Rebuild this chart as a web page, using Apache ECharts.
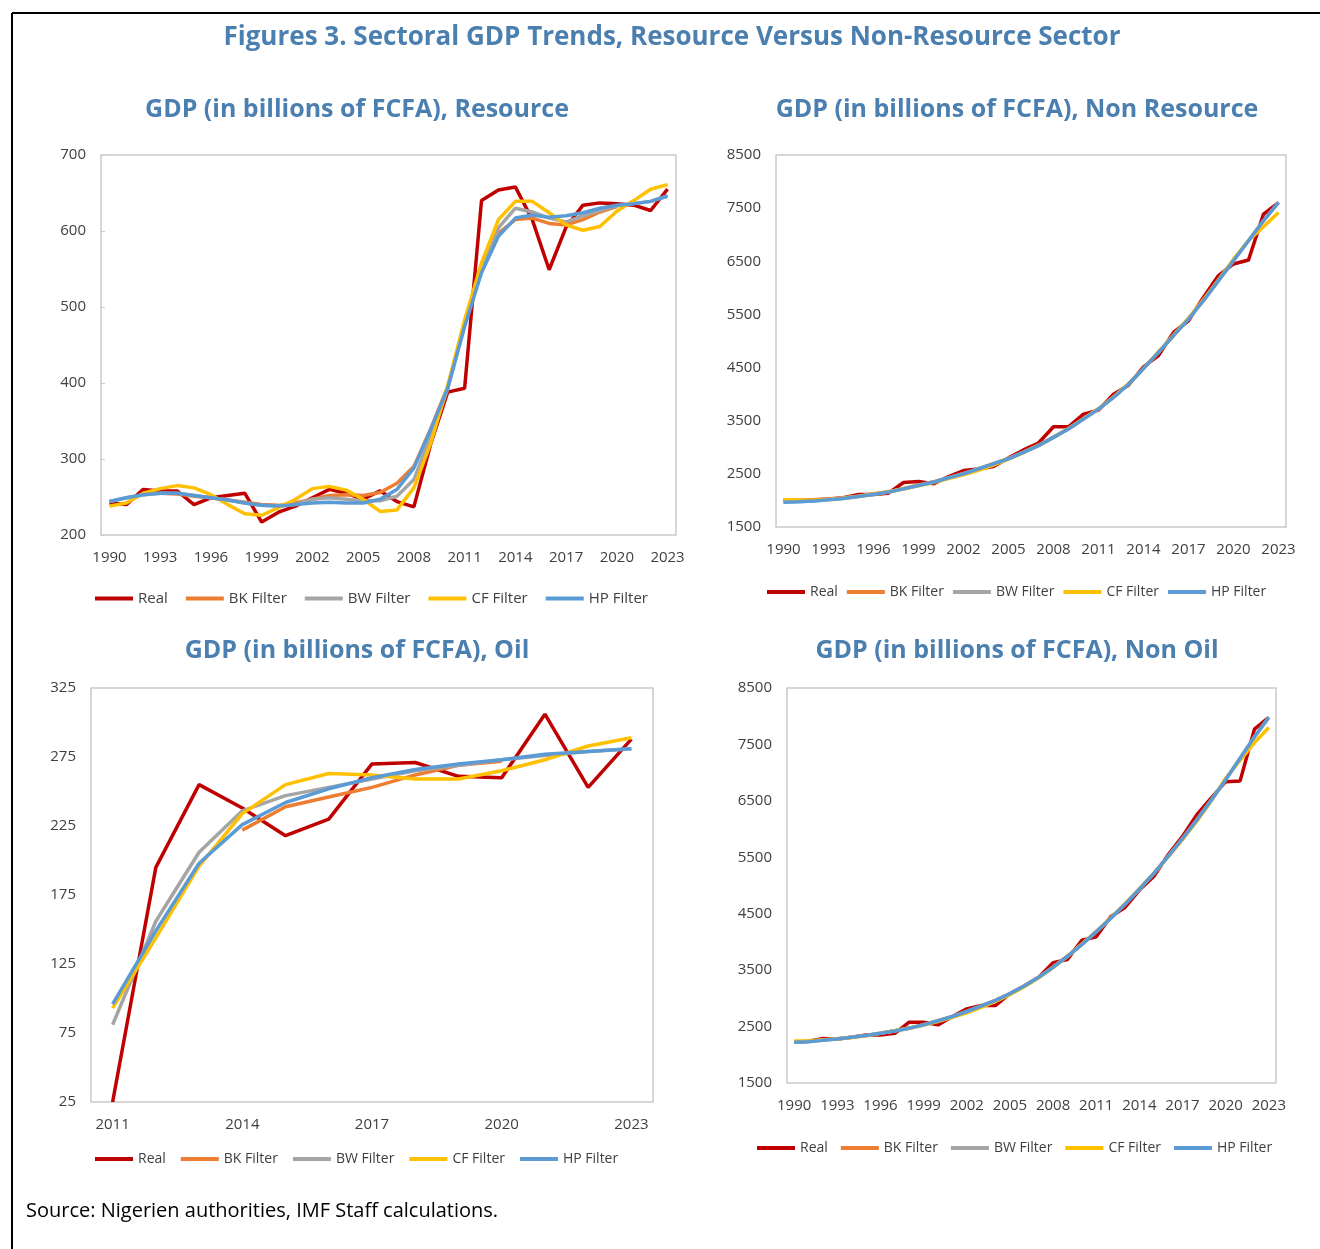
<!DOCTYPE html>
<html>
<head>
<meta charset="utf-8">
<title>Sectoral GDP Trends</title>
<script src="https://cdn.jsdelivr.net/npm/echarts@6/dist/echarts.min.js"></script>
<style>
  body { margin: 0; background: #fff; }
  #page { width: 1320px; height: 1249px; }
</style>
</head>
<body>
<div id="page"></div>
<script>
// categories
const years = [1990, 1991, 1992, 1993, 1994, 1995, 1996, 1997, 1998, 1999, 2000, 2001,
  2002, 2003, 2004, 2005, 2006, 2007, 2008, 2009, 2010, 2011, 2012, 2013, 2014, 2015,
  2016, 2017, 2018, 2019, 2020, 2021, 2022, 2023];
const oilYears = [2011, 2012, 2013, 2014, 2015, 2016, 2017, 2018, 2019, 2020, 2021, 2022, 2023];
const seriesNames = ['Real', 'BK Filter', 'BW Filter', 'CF Filter', 'HP Filter'];

// Resource
const resReal = [242, 240, 260, 258, 258, 240, 249, 252, 255, 217, 230, 238, 249, 260, 255, 247, 258, 244, 237, 320, 388, 393, 640, 654, 658, 615, 549, 605, 634, 637, 636, 634, 627, 655];
const resBK = [null, null, null, 255, 254, 251, 249, 246, 243, 240, 239, 242, 247, 252, 253, 252, 256, 268, 290, 340, 395, 478, 548, 597, 615, 617, 610, 608, 615, 625, 632, null, null, null];
const resBW = [244, 249, 253, 255, 255, 252, 249, 246, 242, 239, 238, 240, 247, 249, 247, 245, 245, 251, 273, 330, 392, 478, 550, 604, 630, 625, 617, 612, 620, 627, 633, 636, 639, 646];
const resCF = [238, 242, 255, 261, 265, 262, 253, 240, 228, 226, 236, 247, 261, 264, 259, 247, 231, 233, 262, 321, 396, 483, 558, 615, 639, 639, 624, 608, 601, 606, 626, 640, 655, 661];
const resHP = [244, 249, 253, 255, 255, 252, 249, 246, 242, 239, 238, 240, 242, 243, 242, 242, 247, 260, 288, 339, 393, 474, 545, 593, 617, 621, 618, 620, 624, 630, 634, 636, 639, 646];

// Non Resource
const nrReal = [2000, 2000, 2012, 2025, 2050, 2112, 2112, 2137, 2337, 2356, 2312, 2450, 2562, 2593, 2637, 2800, 2950, 3080, 3387, 3387, 3625, 3700, 4000, 4168, 4512, 4725, 5162, 5381, 5825, 6231, 6450, 6525, 7387, 7606];
const nrBK = [null, null, null, 2020, 2050, 2085, 2125, 2165, 2225, 2290, 2350, 2430, 2510, 2595, 2690, 2790, 2910, 3040, 3195, 3355, 3540, 3725, 3945, 4195, 4485, 4790, 5100, 5420, 5770, 6140, 6510, null, null, null];
const nrBW = [1970, 1978, 1990, 2015, 2040, 2078, 2115, 2160, 2222, 2285, 2347, 2428, 2505, 2597, 2690, 2785, 2910, 3035, 3190, 3348, 3535, 3722, 3940, 4190, 4484, 4790, 5103, 5415, 5765, 6140, 6515, 6890, 7265, 7610];
const nrCF = [2012, 2010, 2010, 2020, 2040, 2075, 2115, 2160, 2215, 2275, 2335, 2410, 2480, 2565, 2665, 2775, 2900, 3035, 3185, 3350, 3535, 3725, 3945, 4195, 4480, 4790, 5110, 5430, 5780, 6150, 6540, 6890, 7150, 7420];
const nrHP = [1968, 1975, 1987, 2012, 2037, 2075, 2112, 2156, 2218, 2281, 2343, 2425, 2500, 2593, 2687, 2781, 2906, 3031, 3187, 3344, 3531, 3718, 3937, 4187, 4481, 4787, 5100, 5412, 5762, 6137, 6512, 6887, 7262, 7606];

// Oil
const oilReal = [25, 195, 255, 238, 218, 230, 270, 271, 261, 260, 306, 253, 288];
const oilBK = [null, null, null, 222, 239, 246, 253, 262, 269, 272, null, null, null];
const oilBW = [81, 156, 206, 236, 247, 253, 259, 265, 269, 273, 276, 279, 281];
const oilCF = [93, 144, 196, 234, 255, 263, 262, 259, 259, 265, 273, 283, 289];
const oilHP = [96, 149, 198, 226, 242, 252, 260, 266, 270, 273, 277, 279, 281];

// Non Oil
const noReal = [2221, 2240, 2290, 2280, 2310, 2350, 2350, 2380, 2577, 2577, 2530, 2678, 2814, 2874, 2874, 3082, 3218, 3373, 3633, 3690, 4030, 4090, 4445, 4611, 4920, 5160, 5545, 5870, 6256, 6553, 6840, 6850, 7770, 7978];
const noBK = [null, null, null, 2283, 2312, 2343, 2384, 2426, 2473, 2533, 2603, 2681, 2770, 2865, 2966, 3085, 3221, 3376, 3553, 3749, 3957, 4182, 4419, 4669, 4936, 5215, 5517, 5832, 6164, 6515, 6877, null, null, null];
const noBW = [2224, 2236, 2260, 2283, 2313, 2343, 2384, 2426, 2473, 2533, 2603, 2681, 2770, 2865, 2966, 3085, 3221, 3376, 3553, 3749, 3957, 4182, 4419, 4669, 4936, 5215, 5517, 5832, 6164, 6515, 6877, 7256, 7636, 7981];
const noCF = [2245, 2250, 2265, 2280, 2305, 2338, 2380, 2425, 2470, 2525, 2590, 2665, 2745, 2840, 2945, 3065, 3205, 3365, 3545, 3745, 3960, 4185, 4425, 4675, 4940, 5215, 5510, 5815, 6140, 6500, 6900, 7217, 7530, 7800];
const noHP = [2221, 2233, 2257, 2280, 2310, 2340, 2381, 2423, 2470, 2530, 2600, 2678, 2767, 2862, 2963, 3082, 3218, 3373, 3550, 3746, 3954, 4179, 4416, 4666, 4933, 5212, 5514, 5829, 6161, 6512, 6874, 7253, 7633, 7978];

const colors = ['#c00000', '#ed7d31', '#a5a5a5', '#ffc000', '#5b9bd5'];
const FONT = '"Open Sans", "Noto Sans", sans-serif';
const titleColor = '#4a7fb0';
const labelColor = '#404040';

// panel boxes (plot areas) in page pixels
const panels = [
  { left: 101, top: 155, width: 575, height: 380, cats: years, min: 200, max: 700, interval: 100,
    data: [resReal, resBK, resBW, resCF, resHP], title: 'GDP (in billions of FCFA), Resource', tx: 357, ty: 110,
    legend: { left: 95, top: 591, size: 15, gap: 18 } },
  { left: 776, top: 155, width: 510, height: 372, cats: years, min: 1500, max: 8500, interval: 1000,
    data: [nrReal, nrBK, nrBW, nrCF, nrHP], title: 'GDP (in billions of FCFA), Non Resource', tx: 1017, ty: 110,
    legend: { left: 767, top: 585, size: 14, gap: 9 } },
  { left: 91, top: 688, width: 562, height: 414, cats: oilYears, min: 25, max: 325, interval: 50,
    data: [oilReal, oilBK, oilBW, oilCF, oilHP], title: 'GDP (in billions of FCFA), Oil', tx: 357, ty: 651,
    legend: { left: 95, top: 1152, size: 14, gap: 15 } },
  { left: 787, top: 688, width: 489, height: 395, cats: years, min: 1500, max: 8500, interval: 1000,
    data: [noReal, noBK, noBW, noCF, noHP], title: 'GDP (in billions of FCFA), Non Oil', tx: 1017, ty: 651,
    legend: { left: 757, top: 1141, size: 14, gap: 13 } }
];

const grid = [], xAxis = [], yAxis = [], series = [], legend = [];
const graphic = [
  { type: 'line', shape: { x1: 12, y1: 13, x2: 1320, y2: 13 }, style: { stroke: '#000', lineWidth: 2 } },
  { type: 'line', shape: { x1: 12, y1: 13, x2: 12, y2: 1249 }, style: { stroke: '#000', lineWidth: 2 } },
  { type: 'text', x: 672, y: 38, style: { text: 'Figures 3. Sectoral GDP Trends, Resource Versus Non-Resource Sector',
      font: 'bold 26px ' + FONT, fill: titleColor, textAlign: 'center', align: 'center',
      textVerticalAlign: 'middle', verticalAlign: 'middle' } },
  { type: 'text', x: 26, y: 1211, style: { text: 'Source: Nigerien authorities, IMF Staff calculations.',
      font: '20px ' + FONT, fill: '#000', textAlign: 'left', align: 'left',
      textVerticalAlign: 'middle', verticalAlign: 'middle' } }
];

panels.forEach((p, i) => {
  grid.push({ left: p.left, top: p.top, width: p.width, height: p.height,
    show: true, borderColor: '#c9c9c9', borderWidth: 1.5, backgroundColor: '#fff' });
  xAxis.push({
    type: 'category', gridIndex: i, data: p.cats, boundaryGap: true,
    axisLine: { show: false }, axisTick: { show: false },
    axisLabel: { interval: 2, color: labelColor, fontSize: 15, fontFamily: FONT, margin: 15 }
  });
  yAxis.push({
    type: 'value', gridIndex: i, min: p.min, max: p.max, interval: p.interval,
    axisLine: { show: false },
    axisTick: { show: i === 0, inside: true, length: 4, lineStyle: { color: '#c9c9c9' } },
    splitLine: { show: false },
    axisLabel: { color: labelColor, fontSize: 15, fontFamily: FONT, margin: 15,
      formatter: v => String(v) }
  });
  p.data.forEach((d, k) => {
    series.push({
      name: seriesNames[k], type: 'line', xAxisIndex: i, yAxisIndex: i,
      data: d, symbol: 'none', connectNulls: false, silent: true,
      lineStyle: { width: 3.5, color: colors[k] }, itemStyle: { color: colors[k] },
      z: 2 + k
    });
  });
  legend.push({
    left: p.legend.left, top: p.legend.top, data: seriesNames, padding: 0,
    icon: 'rect', itemWidth: 38, itemHeight: 4, itemGap: p.legend.gap,
    textStyle: { fontSize: p.legend.size, color: labelColor, fontFamily: FONT }
  });
  graphic.push({ type: 'text', x: p.tx, y: p.ty, style: { text: p.title,
    font: 'bold 25px ' + FONT, fill: titleColor, textAlign: 'center', align: 'center',
    textVerticalAlign: 'middle', verticalAlign: 'middle' } });
});

const myChart = echarts.init(document.getElementById('page'), null, { renderer: 'canvas' });
const option = {
  animation: false,
  backgroundColor: '#fff',
  color: colors,
  grid: grid,
  xAxis: xAxis,
  yAxis: yAxis,
  legend: legend,
  series: series,
  graphic: graphic
};
option && myChart.setOption(option);
</script>
</body>
</html>
